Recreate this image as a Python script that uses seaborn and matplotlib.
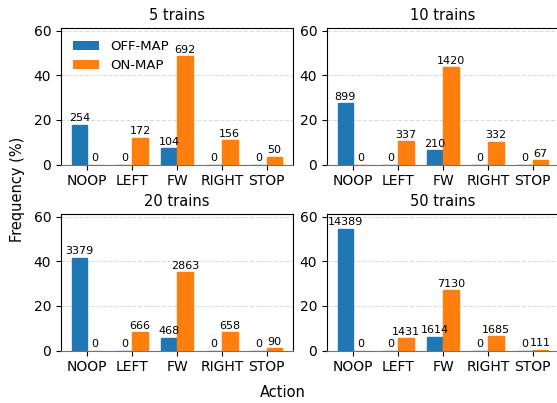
import numpy as np
import pandas as pd
import matplotlib
matplotlib.use("Agg")
import matplotlib.pyplot as plt
import seaborn as sns

actions = ['NOOP', 'LEFT', 'FW', 'RIGHT', 'STOP']
trains = [5, 10, 20, 50]
off_map = {
    5: [254, 0, 104, 0, 0],
    10: [899, 0, 210, 0, 0],
    20: [3379, 0, 468, 0, 0],
    50: [14389, 0, 1614, 0, 0],
}
on_map = {
    5: [0, 172, 692, 156, 50],
    10: [0, 337, 1420, 332, 67],
    20: [0, 666, 2863, 658, 90],
    50: [0, 1431, 7130, 1685, 111],
}

rows = []
for t in trains:
    total = sum(off_map[t]) + sum(on_map[t])
    for a, c in zip(actions, off_map[t]):
        rows.append((t, a, 'OFF-MAP', c, c / total * 100))
    for a, c in zip(actions, on_map[t]):
        rows.append((t, a, 'ON-MAP', c, c / total * 100))
df = pd.DataFrame(rows, columns=['trains', 'action', 'map', 'count', 'pct'])

fig = plt.figure(figsize=(5.57, 4.03), dpi=100)
W, H = 557, 403
boxes = [(61, 28), (327, 28), (61, 214), (327, 214)]
palette = ['#1f77b4', '#ff7f0e']

for i, t in enumerate(trains):
    x0, y0 = boxes[i]
    ax = fig.add_axes([x0 / W, (H - y0 - 136.5) / H, 232 / W, 136.5 / H])
    sub = df[df['trains'] == t]
    sns.barplot(data=sub, x='action', y='pct', hue='map', order=actions,
                hue_order=['OFF-MAP', 'ON-MAP'], palette=palette,
                width=0.7, ax=ax, saturation=1, errorbar=None)
    for c, (name, grp) in zip(ax.containers, sub.groupby('map', sort=False)):
        for p in c.patches:
            p.set_edgecolor(p.get_facecolor())
            p.set_linewidth(1)
        ax.bar_label(c, labels=[str(v) for v in grp['count']], padding=1, fontsize=8)
    ax.set_xlim(-0.585, 4.585)
    ax.set_ylim(0, 61.2)
    ax.set_yticks([0, 20, 40, 60])
    ax.grid(axis='y', linestyle='--', color='lightgray', alpha=0.8)
    ax.set_axisbelow(True)
    ax.spines['bottom'].set_color('0.45')
    ax.set_title(f'{t} trains', fontsize=10.5)
    ax.set_xlabel('')
    ax.set_ylabel('')
    ax.tick_params(labelsize=10)
    if i == 0:
        ax.legend(loc='upper left', frameon=False, fontsize=9.5)
    else:
        ax.get_legend().remove()

fig.text(0.032, 0.531, 'Frequency (%)', rotation=90, ha='center', va='center', fontsize=10.5)
fig.text(0.508, 0.025, 'Action', ha='center', va='center', fontsize=10.5)

fig.savefig('out.png', dpi=100)
